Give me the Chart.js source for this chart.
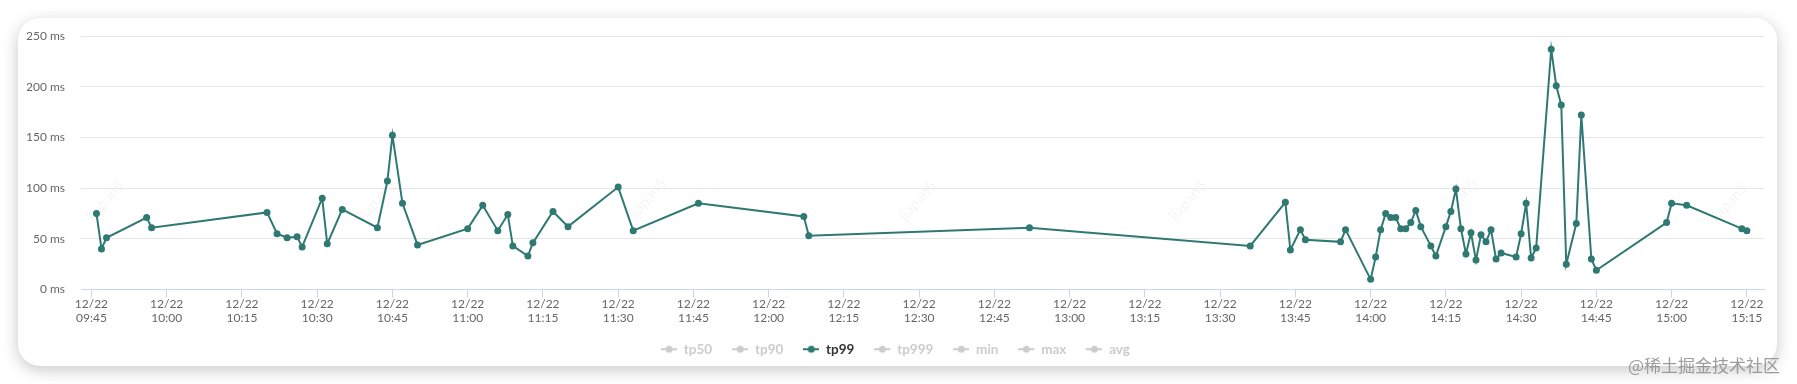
<!DOCTYPE html>
<html>
<head>
<meta charset="utf-8">
<script src="https://cdn.jsdelivr.net/npm/chart.js@4/dist/chart.umd.min.js"></script>
<style>
  html, body { margin: 0; padding: 0; background: #ffffff; }
  body { width: 1797px; height: 384px; position: relative; overflow: hidden; font-family: Lato, sans-serif; }
  #card { position: absolute; left: 18px; top: 18px; width: 1759px; height: 348px; background: #fff;
          border-radius: 22px; box-shadow: 0 4px 16px rgba(0,0,0,0.22); }
  .wm { position: absolute; font: 15px Lato, sans-serif; color: rgba(0,0,0,0.06); transform: translate(-50%,-50%) rotate(-48deg); white-space: nowrap; }
  #wrap { position: absolute; left: 0; top: 0; width: 1797px; height: 384px; }
  #site { position: absolute; left: 1628px; top: 352px; font: 17px "Noto Sans CJK SC", sans-serif; color: rgba(140,140,140,0.85); white-space: nowrap; }
</style>
</head>
<body>
<div id="card"></div>
<div class="wm" style="left:105px;top:200px">jiapan5</div>
<div class="wm" style="left:376px;top:200px">jiapan5</div>
<div class="wm" style="left:647px;top:198px">jiapan5</div>
<div class="wm" style="left:917px;top:200px">jiapan5</div>
<div class="wm" style="left:1187px;top:200px">jiapan5</div>
<div class="wm" style="left:1458px;top:198px">jiapan5</div>
<div class="wm" style="left:1728px;top:202px">jiapan5</div>
<div id="wrap"><canvas id="c" width="1797" height="384"></canvas></div>
<div id="site">@稀土掘金技术社区</div>
<script>
// ---- data ----
const datePrefix = '12/22';
const times = ['09:46','09:47','09:48','09:56','09:57','10:20','10:22','10:24','10:26','10:27',
  '10:31','10:32','10:35','10:42','10:44','10:45','10:47','10:50','11:00','11:03',
  '11:06','11:08','11:09','11:12','11:13','11:17','11:20','11:30','11:33','11:46',
  '12:07','12:08','12:52','13:36','13:43','13:44','13:46','13:47','13:54','13:55',
  '14:00','14:01','14:02','14:03','14:04','14:05','14:06','14:07','14:08','14:09',
  '14:10','14:12','14:13','14:15','14:16','14:17','14:18','14:19','14:20','14:21',
  '14:22','14:23','14:24','14:25','14:26','14:29','14:30','14:31','14:32','14:33',
  '14:36','14:37','14:38','14:39','14:41','14:42','14:44','14:45','14:59','15:00',
  '15:03','15:14','15:15'];
const tp99 = [75,40,51,71,61,76,55,51,52,42,
  90,45,79,61,107,152,85,44,60,83,
  58,74,43,33,46,77,62,101,58,85,
  72,53,61,43,86,39,59,49,47,59,
  10,32,59,75,71,71,60,60,66,78,
  62,43,33,62,77,99,60,35,56,29,
  54,47,59,30,36,32,55,85,31,41,
  237,201,182,25,65,172,30,19,66,85,
  83,60,58];
const seriesNames = ['tp50','tp90','tp99','tp999','min','max','avg'];
const activeSeries = 'tp99';
const xTickLabels = ['09:45','10:00','10:15','10:30','10:45','11:00','11:15','11:30','11:45','12:00',
  '12:15','12:30','12:45','13:00','13:15','13:30','13:45','14:00','14:15','14:30','14:45','15:00','15:15'];
const yTicks = [0,50,100,150,200,250];
const xRange = ['09:42:55','15:18:25'];

// ---- helpers ----
function toMin(s){ const p = s.split(':').map(Number); return p[0]*60 + p[1] + (p[2]||0)/60; }
function fmt(m){ const h = Math.floor(m/60), mm = Math.round(m - h*60); return String(h).padStart(2,'0') + ':' + String(mm).padStart(2,'0'); }

const TEAL = '#2f7973';
const GREY = '#cccccc';

function legendIcon(color){
  const c = document.createElement('canvas');
  c.width = 16; c.height = 10;
  const g = c.getContext('2d');
  g.strokeStyle = color; g.lineWidth = 2;
  g.beginPath(); g.moveTo(0,5); g.lineTo(16,5); g.stroke();
  g.fillStyle = color; g.beginPath(); g.arc(8,5,3.5,0,Math.PI*2); g.fill();
  return c;
}

const datasets = seriesNames.map(name => ({
  label: name,
  data: name === activeSeries ? times.map((t,i) => ({x: toMin(t), y: tp99[i]})) : [],
  borderColor: TEAL,
  backgroundColor: TEAL,
  borderWidth: 2,
  pointRadius: 3.5,
  pointHoverRadius: 3.5,
  pointBackgroundColor: TEAL,
  pointBorderWidth: 0,
  tension: 0,
  fill: false
}));

new Chart(document.getElementById('c'), {
  type: 'line',
  data: { datasets },
  options: {
    responsive: false,
    animation: false,
    events: [],
    layout: { padding: { left: 27, right: 33, top: 36, bottom: 18 } },
    scales: {
      x: {
        type: 'linear',
        min: toMin(xRange[0]),
        max: toMin(xRange[1]),
        afterBuildTicks: ax => { ax.ticks = xTickLabels.map(t => ({ value: toMin(t) })); },
        afterFit: ax => { ax.height = 33; },
        grid: { display: true, drawOnChartArea: false, drawTicks: true, tickLength: 8, color: '#ccd6eb', lineWidth: 1 },
        border: { display: true, color: '#ccd6eb', width: 1 },
        ticks: {
          autoSkip: false, maxRotation: 0, minRotation: 0, padding: 0,
          color: '#666666',
          font: { family: 'Lato', size: 12, lineHeight: 1.17 },
          callback: v => [datePrefix, fmt(v)]
        }
      },
      y: {
        min: yTicks[0], max: yTicks[yTicks.length-1],
        afterBuildTicks: ax => { ax.ticks = yTicks.map(v => ({ value: v })); },
        afterFit: ax => { ax.width = 54; },
        grid: { color: ctx => ctx.tick && ctx.tick.value === 0 ? 'rgba(0,0,0,0)' : '#e6e6e6', drawTicks: false, lineWidth: 1 },
        border: { display: false },
        ticks: { padding: 16, color: '#666666', font: { family: 'Lato', size: 12 }, callback: v => v + ' ms' }
      }
    },
    plugins: {
      tooltip: { enabled: false },
      legend: {
        position: 'bottom',
        align: 'center',
        labels: {
          usePointStyle: true,
          pointStyleWidth: 16,
          padding: 20,
          font: { family: 'Lato', size: 13.5, weight: 'bold' },
          color: '#333333',
          generateLabels: chart => chart.data.datasets.map((ds, i) => {
            const on = ds.label === activeSeries;
            return {
              text: ds.label,
              fontColor: on ? '#333333' : GREY,
              pointStyle: legendIcon(on ? TEAL : GREY),
              hidden: false,
              datasetIndex: i,
              lineWidth: 0,
              strokeStyle: 'rgba(0,0,0,0)',
              fillStyle: 'rgba(0,0,0,0)'
            };
          })
        }
      }
    }
  }
});
</script>
</body>
</html>
